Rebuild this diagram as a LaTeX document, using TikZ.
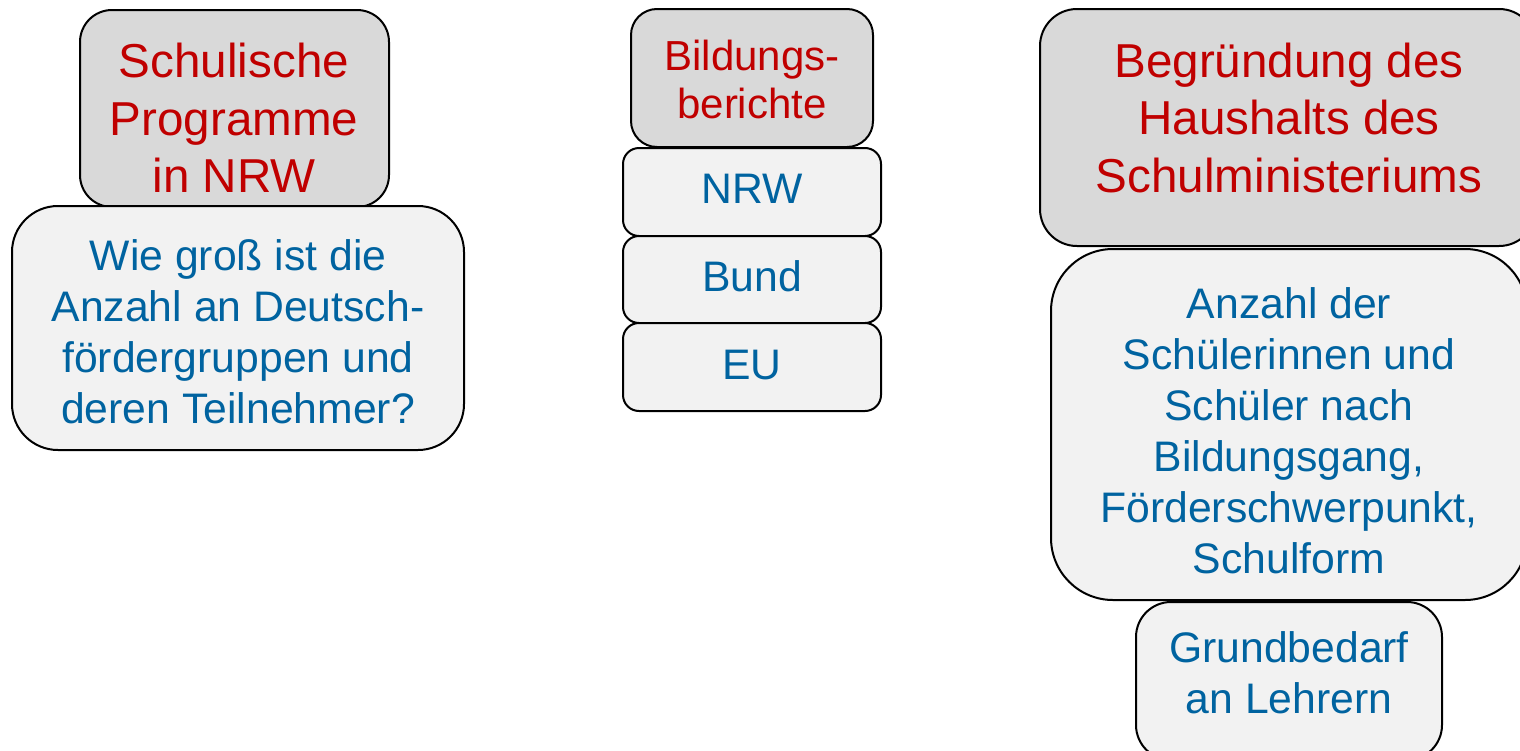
\documentclass[tikz,border=0pt]{standalone}
\usepackage{fontspec}
\setmainfont{Liberation Sans}
\definecolor{hred}{RGB}{192,0,0}
\definecolor{hblue}{RGB}{0,99,160}
\definecolor{hgray}{RGB}{217,217,217}
\definecolor{hlight}{RGB}{242,242,242}
\tikzset{
  boxbase/.style={draw=black, line width=1pt, inner sep=0pt, rectangle},
  graybox/.style={boxbase, fill=hgray},
  lightbox/.style={boxbase, fill=hlight},
  redtxt/.style={text=hred, align=center, inner sep=0pt, font=\fontsize{23.8pt}{28.75pt}\selectfont},
  smallred/.style={text=hred, align=center, inner sep=0pt, font=\fontsize{21pt}{24pt}\selectfont},
  bluetxt/.style={text=hblue, align=center, inner sep=0pt, font=\fontsize{21.35pt}{25.5pt}\selectfont}
}
\begin{document}
\begin{tikzpicture}[x=0.5pt,y=-0.5pt]
\useasboundingbox (0,0) rectangle (1520,750);
\fill[white] (0,0) rectangle (1520,750);
\clip (0,0) rectangle (1520,750);
% left column
\node[graybox, minimum width=154.5pt, minimum height=98.5pt, rounded corners=16pt] (a) at (234.5,108.5) {};
\node[lightbox, minimum width=226pt, minimum height=122pt, rounded corners=23pt] (b) at (238,328) {};
\node[redtxt] (at) at (234,118) {Schulische\\Programme\\in NRW};
\node[bluetxt] (bt) at (238,332) {Wie groß ist die\\Anzahl an Deutsch-\\fördergruppen und\\deren Teilnehmer?};
% middle column
\node[graybox, minimum width=121pt, minimum height=69pt, rounded corners=13pt] (c) at (752,78) {};
\node[lightbox, minimum width=129pt, minimum height=44pt, rounded corners=8pt] (d) at (752,192) {};
\node[lightbox, minimum width=129pt, minimum height=43.5pt, rounded corners=8pt] (e) at (752,279.5) {};
\node[lightbox, minimum width=129pt, minimum height=44pt, rounded corners=8pt] (f) at (752,367) {};
\node[smallred] (ct) at (752,79) {Bildungs-\\berichte};
\node[bluetxt] (dt) at (752,189) {NRW};
\node[bluetxt] (et) at (752,276) {Bund};
\node[bluetxt] (ft) at (752,365) {EU};
% right column
\node[graybox, minimum width=248pt, minimum height=118.5pt, rounded corners=18.5pt] (g) at (1288,127.5) {};
\node[lightbox, minimum width=238pt, minimum height=175.5pt, rounded corners=31pt] (h) at (1289,424.5) {};
\node[lightbox, minimum width=153pt, minimum height=79pt, rounded corners=17.5pt] (i) at (1289,681) {};
\node[redtxt] (gt) at (1289,117.5) {Begründung des\\Haushalts des\\Schulministeriums};
\node[bluetxt] (ht) at (1289,430.5) {Anzahl der\\Schülerinnen und\\Schüler nach\\Bildungsgang,\\Förderschwerpunkt,\\Schulform};
\node[bluetxt] (it) at (1289,672.5) {Grundbedarf\\an Lehrern};
\end{tikzpicture}
\end{document}
